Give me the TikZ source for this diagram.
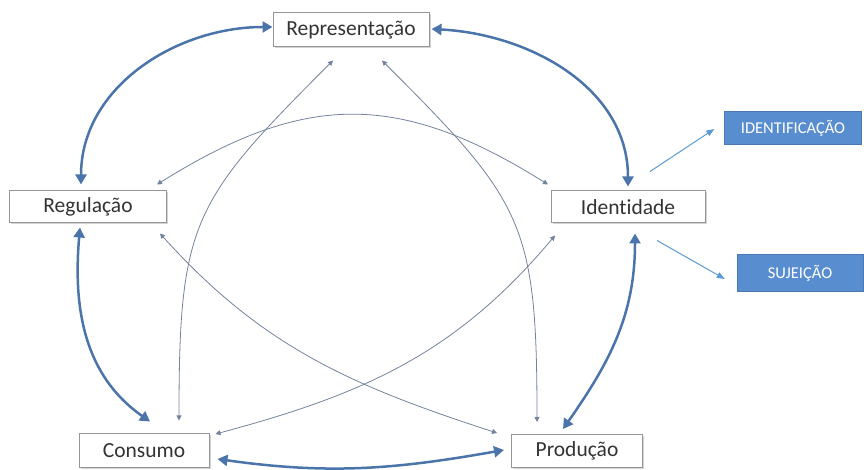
\documentclass[tikz,border=0pt]{standalone}
\usepackage{fontspec}
\setmainfont{Carlito}[Ligatures=NoCommon]
\usetikzlibrary{arrows.meta,shadows}
\definecolor{thickblue}{RGB}{74,116,170}
\definecolor{thinblue}{RGB}{115,130,158}
\definecolor{lightblue}{RGB}{91,155,213}
\definecolor{boxblue}{RGB}{88,141,208}
\definecolor{boxedge}{RGB}{150,150,150}

\begin{document}
\begin{tikzpicture}[x=1pt,y=1pt,
  box/.style={draw=boxedge, fill=white, line width=1pt, inner sep=0pt, minimum height=33pt, text=black!80, font=\fontsize{21.5}{24}\selectfont, drop shadow={shadow xshift=1.5pt, shadow yshift=-1.5pt, opacity=0.35}},
  bluebox/.style={draw=boxblue!85!black, fill=boxblue, inner sep=0pt, text=white, font=\fontsize{16.5}{18}\selectfont},
  major/.style={thickblue, line width=2.5pt, {Triangle[length=10pt,width=11pt]}-{Triangle[length=10pt,width=11pt]}},
  minor/.style={thinblue, line width=0.8pt, {Triangle[length=5pt,width=5pt]}-{Triangle[length=5pt,width=5pt]}},
  side/.style={lightblue, line width=1pt, -{Triangle[length=8pt,width=6pt]}}]
\useasboundingbox (0,0) rectangle (864,470);
\node [box, minimum width=156pt, minimum height=34pt] (rep) at (351,440) {Representação};
\node [box, minimum width=157pt, minimum height=32pt] (reg) at (88,263) {Regulação};
\node [box, minimum width=154pt, minimum height=32pt] (ide) at (628,263) {Identidade};
\node [box, minimum width=130pt, minimum height=34pt] (con) at (144,19) {Consumo};
\node [box, minimum width=131pt, minimum height=33pt] (pro) at (577,19) {Produção};
\node [bluebox, minimum width=137pt, minimum height=33pt] (idf) at (793,342) {IDENTIFICAÇÃO};
\node [bluebox, minimum width=126pt, minimum height=37pt] (suj) at (800,197) {SUJEIÇÃO};
\draw [major] ([yshift=3pt]rep.west) to [out=180,in=90] ([xshift=-7pt,yshift=6pt]reg.north);
\draw [major] ([xshift=2pt,yshift=1pt]rep.east) to [out=-3,in=90] ([yshift=4pt]ide.north);
\draw [major] ([xshift=-8pt,yshift=-4pt]reg.south) to [out=-95,in=145] ([xshift=6pt,yshift=12pt]con.north);
\draw [major] ([xshift=8pt,yshift=-8pt]con.east) to [out=-8,in=190] ([xshift=-7pt,yshift=1pt]pro.west);
\draw [major] ([xshift=7pt,yshift=-10pt]ide.south) to [out=-90,in=55] ([xshift=-14pt,yshift=5pt]pro.north);
\draw [minor] ([xshift=35pt,yshift=13pt]con.north) to [out=90,in=225,looseness=1.3] ([xshift=-18pt,yshift=-13pt]rep.south);
\draw [minor] ([xshift=-40pt,yshift=12pt]pro.north) to [out=90,in=-45,looseness=1.3] ([xshift=31pt,yshift=-13pt]rep.south);
\draw [minor] ([xshift=69pt,yshift=6pt]reg.north) to [out=32,in=148,looseness=1.15] ([xshift=-80pt,yshift=6pt]ide.north);
\draw [minor] ([xshift=72pt,yshift=-10pt]reg.south) to [out=-48,in=162] ([xshift=-14pt,yshift=18pt]pro.west);
\draw [minor] ([xshift=-73pt,yshift=-12pt]ide.south) to [out=230,in=15] ([xshift=6pt,yshift=17pt]con.east);
\draw [side] ([shift={(22,19)}]ide.north) -- ([xshift=-10pt,yshift=-1pt]idf.west);
\draw [side] ([shift={(29,-17)}]ide.south) -- ([xshift=-12pt,yshift=-6pt]suj.west);
\end{tikzpicture}
\end{document}
